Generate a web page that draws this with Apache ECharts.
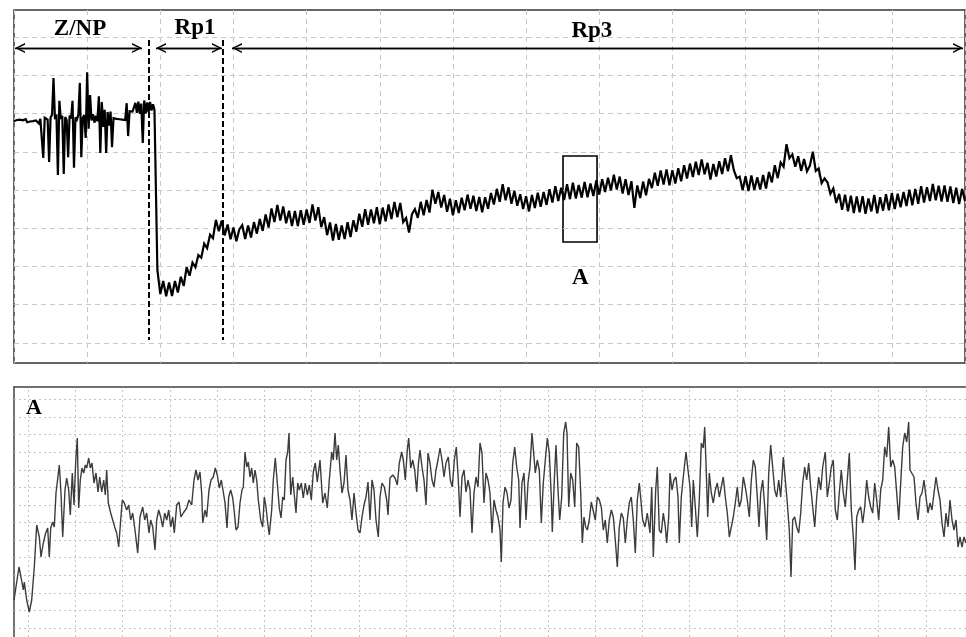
<!DOCTYPE html>
<html><head><meta charset="utf-8">
<script src="https://cdn.jsdelivr.net/npm/echarts/dist/echarts.min.js"></script>
<style>html,body{margin:0;padding:0;background:#fff}#c{width:966px;height:637px}</style>
</head><body><div id="c"></div>
<script>
// ---- Top trace (whole recording), sampled every 0.2 (Z/NP) and 0.4 (Rp1, Rp3) time units ----
const topZnp = [
68.0,67.6,68.3,67.8,68.4,67.9,68.2,68.0,68.5,67.7,
68.1,67.9,68.4,68.0,67.6,68.2,67.8,67.4,68.6,68.2,
58.4,68.9,69.3,68.4,57.3,69.0,69.6,79.3,68.5,69.8,
53.9,73.3,68.6,69.4,54.2,69.1,68.3,58.6,69.5,68.7,
73.3,55.8,69.0,68.4,69.7,78.0,58.6,68.9,69.6,63.6,
80.8,66.0,74.8,68.2,69.8,67.6,69.4,68.0,74.5,59.7,
73.0,66.5,71.0,59.7,70.4,66.8,70.5,61.2,68.8,68.3,
68.6,68.2,68.5,68.1,68.4,68.0,68.3,72.7,64.1,70.6,
70.9,70.5,71.0,72.8,70.2,73.1,69.9,72.6,62.3,73.4,
70.0,72.9,70.3,73.0,70.8,72.4,71.0
];
const topRp1 = [
29.1,22.8,26.2,22.2,25.8,22.3,26.2,23.2,27.3,24.9,
29.8,27.6,31.0,29.8,33.0,32.3,36.0,34.8,38.3,37.4,
42.2,39.2,42.0,38.1,41.0,37.1,40.2,36.6,39.7
];
const topRp3 = [
40.8,37.2,40.7,37.6,41.6,38.6,42.4,39.3,43.6,40.2,
45.2,41.6,46.1,42.0,45.7,41.3,44.6,40.6,44.5,40.6,
44.7,40.9,44.9,41.4,46.2,42.0,45.5,40.3,42.9,38.2,
41.5,36.8,41.1,37.0,40.7,37.2,41.6,37.7,42.1,39.1,
43.8,40.4,45.0,40.9,44.9,41.3,45.5,41.0,45.4,41.8,
46.2,42.4,46.9,42.9,46.6,41.6,42.7,38.9,43.7,45.0,
42.7,46.9,43.4,47.4,44.1,50.1,46.4,49.5,45.4,48.7,
44.3,47.7,43.4,47.3,44.0,48.0,44.7,48.8,45.1,48.5,
44.5,48.2,44.2,48.1,45.1,49.2,46.2,50.3,46.9,51.5,
47.3,50.7,46.4,49.8,45.9,48.9,45.0,48.4,44.4,48.7,
45.3,49.3,45.6,49.5,46.1,50.2,46.7,51.0,47.1,50.6,
47.4,51.5,47.6,51.9,47.8,51.3,48.0,52.1,48.1,51.7,
48.4,52.5,48.8,52.8,49.5,53.2,49.9,54.0,50.1,53.5,
49.1,52.8,48.7,52.3,45.3,51.2,47.9,52.2,48.6,52.9,
50.5,54.5,51.1,55.1,51.4,55.4,51.2,55.2,51.7,55.7,
52.3,56.5,53.0,56.9,53.4,57.4,53.9,58.0,54.1,57.1,
52.7,56.8,53.5,57.5,54.2,58.3,54.9,59.1,55.2,53.1,
53.5,49.9,53.6,49.7,53.8,50.0,53.3,50.1,53.9,50.4,
54.7,52.0,56.5,53.1,57.2,56.1,62.0,58.3,59.3,56.1,
58.8,55.0,58.1,54.9,56.4,60.0,55.0,55.6,51.8,53.0,
52.0,49.0,50.4,46.6,49.0,44.8,48.8,44.4,48.5,44.0,
48.3,44.2,48.4,43.8,47.8,44.4,48.7,43.9,48.1,44.6,
48.9,44.7,49.2,45.0,49.0,45.5,49.5,45.8,50.1,46.0,
50.3,46.4,51.0,46.7,50.7,47.1,51.6,47.3,51.1,47.0,
51.2,46.9,50.9,46.6,50.6,46.3,50.3,47.1
];
// ---- Bottom trace (zoom of window A): [time, amplitude] ----
const bottomTrace = [
[0,3.7],[0.2,3.5],[0.5,7.0],[0.7,6.0],[0.93,4.7],[1.03,5.5],[1.27,3.7],[1.53,2.5],[1.77,3.7],[2.03,7.0],
[2.27,11.2],[2.53,10.0],[2.7,8.0],[2.93,9.4],[3.17,10.4],[3.37,10.9],[3.53,8.0],[3.67,10.9],[3.87,11.5],[4.03,11.0],
[4.2,14.4],[4.37,14.2],[4.53,17.2],[4.7,14.4],[4.87,10.0],[5.1,14.7],[5.27,15.9],[5.47,14.7],[5.63,12.2],[5.83,16.4],
[6.0,13.2],[6.17,17.5],[6.33,19.9],[6.47,12.9],[6.63,15.7],[6.8,16.9],[6.97,16.4],[7.13,17.2],[7.27,16.9],[7.47,17.9],
[7.63,16.9],[7.8,17.4],[8.0,15.4],[8.2,16.4],[8.4,14.5],[8.57,16.0],[8.77,14.5],[8.97,15.7],[9.13,14.2],[9.27,16.7],
[9.43,13.4],[9.67,12.4],[9.87,11.7],[10.1,10.9],[10.27,10.4],[10.47,9.0],[10.67,11.7],[10.83,13.7],[11.03,13.4],[11.27,12.7],
[11.47,13.2],[11.67,11.7],[11.87,12.4],[12.1,10.7],[12.37,8.4],[12.6,12.0],[12.87,13.0],[13.07,11.7],[13.27,12.4],[13.5,10.4],
[13.67,11.7],[13.87,11.0],[14.1,8.7],[14.27,11.7],[14.47,12.7],[14.67,12.0],[14.87,11.0],[15.07,12.4],[15.27,11.7],[15.47,12.7],
[15.67,11.0],[15.87,12.0],[16.03,10.4],[16.27,13.2],[16.5,13.5],[16.7,12.0],[16.93,12.4],[17.27,12.9],[17.5,13.7],[17.77,13.2],
[18.0,15.7],[18.2,16.7],[18.4,15.7],[18.6,16.5],[18.77,14.4],[18.87,11.4],[19.1,12.7],[19.27,12.0],[19.5,14.7],[19.7,15.7],
[19.93,16.0],[20.13,16.9],[20.33,16.2],[20.53,14.9],[20.73,15.7],[20.93,14.5],[21.1,13.4],[21.3,10.9],[21.47,14.0],[21.67,14.7],
[21.87,13.9],[22.03,12.5],[22.2,10.7],[22.4,11.0],[22.6,13.4],[22.8,14.7],[22.93,15.0],[23.1,18.5],[23.27,17.0],[23.43,17.5],
[23.6,16.0],[23.77,16.9],[23.93,15.4],[24.1,16.7],[24.27,15.7],[24.43,13.7],[24.67,11.7],[24.87,11.0],[25.03,14.0],[25.2,13.0],
[25.37,11.4],[25.53,10.2],[25.77,12.7],[25.93,15.7],[26.13,17.9],[26.33,15.4],[26.53,12.9],[26.7,11.9],[26.87,14.0],[27.03,13.7],
[27.2,17.7],[27.37,18.5],[27.5,20.4],[27.67,14.2],[27.87,16.0],[28.03,14.2],[28.2,12.4],[28.37,15.4],[28.53,14.7],[28.73,15.4],
[28.93,13.9],[29.13,15.4],[29.33,14.2],[29.53,15.2],[29.73,13.7],[29.93,16.5],[30.13,17.4],[30.33,15.5],[30.5,16.9],
[30.6,17.7],[30.87,13.4],[31.1,14.4],[31.33,12.9],[31.53,15.7],[31.77,18.5],[31.93,17.7],[32.1,20.4],[32.27,17.7],[32.43,19.2],
[32.6,16.7],[32.8,14.4],[33.0,15.4],[33.2,18.2],[33.4,14.7],[33.6,13.7],[33.8,11.7],[34.0,14.4],[34.2,12.4],[34.4,10.7],
[34.6,10.4],[34.8,12.0],[35.0,13.2],[35.2,14.0],[35.4,15.5],[35.6,11.7],[35.8,15.7],[36.0,14.7],[36.2,11.7],[36.43,10.0],
[36.6,14.0],[36.8,15.4],[37.03,15.0],[37.27,13.7],[37.4,12.2],[37.6,15.9],[37.87,16.2],[38.1,15.9],[38.33,15.2],[38.53,17.4],
[38.77,18.5],[38.93,17.7],[39.13,15.7],[39.33,18.7],[39.47,19.9],[39.67,16.9],[39.87,17.7],[40.07,16.7],[40.27,14.5],[40.43,17.2],
[40.6,18.7],[40.8,17.0],[41.0,15.7],[41.2,13.2],[41.4,18.4],[41.6,17.4],[41.8,15.7],[42.0,15.0],[42.2,16.7],[42.4,17.7],
[42.6,18.9],[42.8,17.7],[43.0,16.0],[43.2,17.4],[43.43,18.0],[43.63,15.7],[43.83,15.0],[44.03,17.7],[44.23,19.0],[44.43,15.7],
[44.6,12.0],[44.8,16.0],[45.0,16.7],[45.2,14.5],[45.4,15.7],[45.6,14.7],[45.8,10.4],[46.0,14.4],[46.2,16.0],[46.4,15.0],
[46.6,19.4],[46.8,18.4],[47.0,13.4],[47.2,16.4],[47.4,15.7],[47.6,14.4],[47.8,10.4],[48.0,13.7],[48.2,12.7],[48.4,12.0],
[48.6,10.7],[48.73,7.5],[48.9,13.4],[49.1,15.0],[49.3,14.4],[49.5,12.9],[49.7,13.7],[49.87,17.4],[50.07,19.0],[50.27,17.0],
[50.47,15.7],[50.6,10.9],[50.8,15.4],[51.0,16.4],[51.2,11.7],[51.4,15.4],[51.6,17.0],[51.8,20.4],[51.93,20.5],[52.13,16.4],
[52.33,17.7],[52.53,16.7],[52.73,11.4],[52.93,15.4],[53.13,17.7],[53.33,19.9],[53.53,18.4],[53.73,14.0],[53.83,10.5],[54.03,15.7],
[54.2,19.2],[54.4,14.7],[54.57,11.7],[54.77,14.0],[54.97,20.4],[55.17,21.5],[55.3,20.4],[55.47,13.0],[55.67,16.4],[55.87,15.7],
[56.07,13.0],[56.27,19.4],[56.47,19.0],[56.67,14.4],[56.83,9.4],[57.0,12.0],[57.17,11.0],[57.33,10.7],[57.53,11.7],[57.73,13.5],
[57.93,13.7],[58.13,11.7],[58.33,14.0],[58.53,13.7],[58.73,13.0],[58.93,10.7],[59.13,11.7],[59.33,9.4],[59.53,11.7],[59.73,12.7],
[59.93,12.0],[60.13,9.7],[60.33,7.0],[60.53,11.0],[60.73,12.4],[60.93,11.9],[61.13,9.4],[61.33,11.7],[61.53,13.4],[61.73,14.0],
[61.93,11.7],[62.13,8.4],[62.33,13.7],[62.53,15.4],
[62.87,11.7],[63.1,11.0],[63.33,12.4],[63.6,10.4],[63.77,15.0],[63.93,8.0],[64.17,14.7],[64.33,17.0],[64.53,10.7],[64.73,10.4],
[64.93,12.4],[65.13,11.0],[65.27,9.4],[65.47,12.0],[65.6,16.4],[65.8,14.7],[66.0,15.7],[66.2,16.0],[66.4,14.0],[66.53,9.4],
[66.73,14.0],[66.93,16.0],[67.2,18.5],[67.4,16.7],[67.6,15.0],[67.77,11.0],[67.93,15.7],[68.13,13.0],[68.33,10.0],[68.53,13.7],
[68.73,19.4],[68.93,18.9],[69.07,21.0],[69.2,17.4],[69.37,12.0],[69.53,16.4],[69.73,14.4],[69.93,13.4],[70.13,14.7],[70.33,15.4],
[70.53,14.0],[70.73,15.0],[70.93,16.0],[71.13,14.0],[71.33,12.4],[71.53,10.0],[71.73,11.0],[71.93,12.0],[72.13,13.4],[72.33,15.0],
[72.53,13.0],[72.73,13.7],[72.93,16.0],[73.13,15.0],[73.33,13.7],[73.53,12.0],[73.73,15.7],[73.93,17.7],[74.13,17.0],[74.33,14.0],
[74.5,11.0],[74.67,14.4],[74.87,15.7],[75.07,13.0],[75.27,9.7],[75.47,16.4],[75.67,19.2],[75.87,19.0],[76.07,14.7],[76.27,14.0],
[76.47,15.7],[76.67,14.0],[76.93,18.0],[77.13,15.7],[77.33,13.4],[77.53,10.7],[77.7,6.0],[77.87,11.7],[78.07,12.0],[78.27,11.0],
[78.47,10.4],[78.67,12.4],[78.87,15.4],[79.07,17.0],[79.27,15.7],[79.47,17.4],[79.67,15.0],[79.87,13.0],[80.07,11.0],[80.27,14.0],
[80.47,16.0],[80.67,14.7],[80.87,17.0],[81.13,18.5],[81.33,14.0],[81.53,15.4],[81.73,17.0],[81.93,17.7],[82.13,12.7],[82.33,11.7],
[82.53,14.4],[82.73,16.7],[82.93,14.4],[83.13,13.0],[83.33,15.7],[83.53,18.4],[83.73,12.7],[83.93,10.0],[84.1,6.7],[84.27,12.0],
[84.47,12.7],[84.67,13.0],[84.87,11.4],[85.07,13.0],[85.27,15.7],[85.47,14.0],[85.67,13.0],[85.87,12.4],[86.07,15.4],[86.27,13.7],
[86.47,11.7],[86.67,14.7],[86.87,15.7],[87.07,19.0],[87.27,18.0],[87.47,21.0],[87.67,17.0],[87.87,17.7],[88.07,17.0],[88.27,14.4],
[88.47,11.7],[88.67,15.4],[88.87,19.0],[89.07,20.4],[89.27,19.5],[89.47,21.5],[89.6,16.7],[89.8,16.9],[90.0,16.0],[90.2,13.4],
[90.4,11.7],[90.6,14.0],[90.8,14.4],[91.0,15.7],[91.2,14.0],[91.4,12.4],[91.6,13.4],[91.8,12.7],[92.0,14.4],[92.2,16.0],
[92.4,14.7],[92.6,13.7],[92.8,11.4],[93.0,10.0],[93.2,12.4],[93.4,11.0],[93.6,13.7],[93.8,11.7],[94.0,10.7],[94.2,11.7],
[94.4,9.0],[94.6,10.0],[94.8,9.0],[95.0,10.0],[95.2,9.4]
];
// ---- Annotations ----
const phaseNames = ['Z/NP', 'Rp1', 'Rp3'];
const phaseStart = [0.14, 19.41, 29.80];
const phaseEnd = [17.50, 28.43, 129.73];
const phaseBoundaries = [18.46, 28.57];
const windowA = {x0: 75.05, x1: 79.7, y0: 36.4, y1: 58.9};

// build series data
const topData = [];
topZnp.forEach((v, j) => topData.push([+(j * 0.2).toFixed(2), v]));
topRp1.concat(topRp3).forEach((v, k) => topData.push([+((49 + k) * 0.4).toFixed(2), v]));

const FONT = '"Liberation Serif","Times New Roman",serif';
const arrowY = 87.1, labelY = [92.1, 92.3, 91.6];
const labelX = [9.02, 24.74, 79.0];
const chevron = 'path://M0,10 L5,0 L10,10 L8.4,10 L5,3.2 L1.6,10 Z';
const inset = 0.68;

const topGridY = []; for (let v = 10; v <= 90; v += 10) topGridY.push({yAxis: v});
const botGridX = []; for (let k = 0; k <= 19; k++) botGridX.push({xAxis: 1.4 + 4.726 * k});
const botGridY = []; for (let k = 0; k <= 13; k++) botGridY.push({yAxis: 23.75 - 1.758 * k});

const hidden = {axisLine: {show: false}, axisTick: {show: false}, axisLabel: {show: false}, splitLine: {show: false}};

const chart = echarts.init(document.getElementById('c'), null, {renderer: 'canvas'});
chart.setOption({
  animation: false,
  backgroundColor: '#fff',
  grid: [
    {left: 14, right: 1, top: 10, bottom: 274, show: true, borderColor: '#333', borderWidth: 1.5, backgroundColor: 'rgba(0,0,0,0)'},
    {left: 14, right: 0, top: 387, bottom: 0}
  ],
  xAxis: [
    {gridIndex: 0, type: 'value', min: 0, max: 130, interval: 10,
      axisLine: {show: false}, axisTick: {show: false}, axisLabel: {show: false},
      splitLine: {show: true, lineStyle: {color: '#c8c8c8', type: [5, 4], width: 1}}},
    Object.assign({gridIndex: 1, type: 'value', min: 0, max: 95.2, position: 'top'}, hidden,
      {axisLine: {show: true, onZero: false, lineStyle: {color: '#444', width: 1.5}}})
  ],
  yAxis: [
    Object.assign({gridIndex: 0, type: 'value', min: 4.77, max: 97.06}, hidden),
    Object.assign({gridIndex: 1, type: 'value', min: 0, max: 25}, hidden,
      {axisLine: {show: true, onZero: false, lineStyle: {color: '#444', width: 1.5}}})
  ],
  series: [
    {type: 'line', xAxisIndex: 0, yAxisIndex: 0, data: [], z: 1, silent: true,
      markLine: {silent: true, z: 1, symbol: ['none', 'none'], label: {show: false}, animation: false,
        lineStyle: {color: '#c8c8c8', type: [5, 4], width: 1}, data: topGridY}},
    {type: 'line', xAxisIndex: 0, yAxisIndex: 0, data: topData, z: 3, silent: true,
      showSymbol: false, symbol: 'none', lineStyle: {color: '#000', width: 2.2, join: 'miter', miterLimit: 3}},
    {type: 'line', xAxisIndex: 0, yAxisIndex: 0, data: [], z: 5, silent: true,
      markLine: {silent: true, symbol: ['none', 'none'], label: {show: false}, animation: false,
        lineStyle: {color: '#000', type: [6, 3], width: 2},
        data: phaseBoundaries.map(x => [{coord: [x, 89.2]}, {coord: [x, 10.8]}])}},
    {type: 'line', xAxisIndex: 0, yAxisIndex: 0, data: [], z: 5, silent: true,
      markLine: {silent: true, symbol: ['none', 'none'], label: {show: false}, animation: false,
        lineStyle: {color: '#000', type: 'solid', width: 1.3},
        data: phaseStart.map((s, i) => [{coord: [s, arrowY]}, {coord: [phaseEnd[i], arrowY]}])}},
    {type: 'line', xAxisIndex: 0, yAxisIndex: 0, data: [], z: 5, silent: true,
      markLine: {silent: true, symbol: [chevron, chevron], symbolSize: 10, label: {show: false}, animation: false,
        lineStyle: {color: '#000', type: 'solid', width: 1.3},
        data: phaseStart.map((s, i) => [{coord: [s + inset, arrowY]}, {coord: [phaseEnd[i] - inset, arrowY]}])}},
    {type: 'line', xAxisIndex: 0, yAxisIndex: 0, data: [], z: 6, silent: true,
      markArea: {silent: true, itemStyle: {color: 'rgba(0,0,0,0)', borderColor: '#000', borderWidth: 1.6},
        data: [[{coord: [windowA.x0, windowA.y1]}, {coord: [windowA.x1, windowA.y0]}]]},
      markPoint: {silent: true, symbol: 'circle', symbolSize: 1, itemStyle: {color: 'rgba(0,0,0,0)'},
        label: {show: true, position: 'inside', formatter: '{b}', color: '#000', fontFamily: FONT, fontWeight: 'bold', fontSize: 23},
        data: phaseNames.map((n, i) => ({name: n, coord: [labelX[i], labelY[i]]}))
          .concat([{name: 'A', coord: [77.4, 27.0]}])}},
    {type: 'line', xAxisIndex: 1, yAxisIndex: 1, data: [], z: 1, silent: true,
      markLine: {silent: true, z: 1, symbol: ['none', 'none'], label: {show: false}, animation: false,
        lineStyle: {color: '#c4c4c4', type: [2, 3], width: 1}, data: botGridX.concat(botGridY)}},
    {type: 'line', xAxisIndex: 1, yAxisIndex: 1, data: bottomTrace, z: 3, silent: true,
      showSymbol: false, symbol: 'none', lineStyle: {color: '#3c3c3c', width: 1.4},
      markPoint: {silent: true, symbol: 'circle', symbolSize: 1, itemStyle: {color: 'rgba(0,0,0,0)'},
        label: {show: true, position: 'inside', formatter: '{b}', color: '#000', fontFamily: FONT, fontWeight: 'bold', fontSize: 22},
        data: [{name: 'A', coord: [2.0, 22.9]}]}}
  ]
});
</script></body></html>
